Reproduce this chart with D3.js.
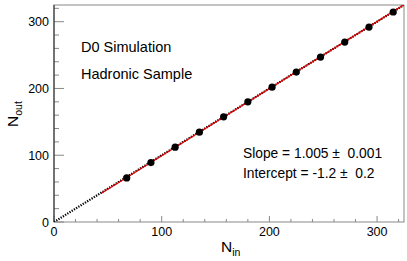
<!DOCTYPE html>
<html>
<head>
<meta charset="utf-8">
<script src="https://cdn.jsdelivr.net/npm/d3@7"></script>
<style>
  body { margin: 0; background: #fff; }
  text { font-family: "Liberation Sans", Arial, sans-serif; }
</style>
</head>
<body>
<script>
// General constants
const WIDTH = 407;
const HEIGHT = 261;
const margin = {left: 54, top: 5, right: 3, bottom: 39};

// Data
const nIn  = [67.5, 90, 112.5, 135, 157.5, 180, 202.5, 225, 247.5, 270, 292.5, 315];
const nOut = [66, 89, 112, 134.5, 157.5, 180, 202, 224.5, 247, 269.5, 292, 314.5];
const xTicks = [0, 100, 200, 300];
const yTicks = [0, 100, 200, 300];
const fitSlope = 1.005;
const fitIntercept = -1.2;
const fitRange = [44, 325];
const labels = ["D0 Simulation", "Hadronic Sample"];
const fitLabels = ["Slope = 1.005 \u00b1  0.001", "Intercept = -1.2 \u00b1  0.2"];

const svg = d3.select("body").append("svg")
    .attr("width", WIDTH)
    .attr("height", HEIGHT);

var x = d3.scaleLinear().domain([0, 325]).range([margin.left, WIDTH - margin.right]);
var y = d3.scaleLinear().domain([0, 325]).range([HEIGHT - margin.bottom, margin.top]);

svg.append("clipPath").attr("id", "clip")
    .append("rect")
    .attr("x", margin.left).attr("y", margin.top)
    .attr("width", WIDTH - margin.left - margin.right)
    .attr("height", HEIGHT - margin.top - margin.bottom);

/** Frame */
svg.append("rect")
    .attr("x", margin.left).attr("y", margin.top)
    .attr("width", WIDTH - margin.left - margin.right)
    .attr("height", HEIGHT - margin.top - margin.bottom)
    .attr("fill", "none")
    .attr("stroke", "#888");

/** Ticks pointing inside, ROOT style */
const minor = d3.range(0, 326, 20);
svg.selectAll(".ytick").data(minor).enter().append("line")
    .attr("x1", x(0))
    .attr("x2", d => x(0) + (d % 100 === 0 ? 10 : 5))
    .attr("y1", d => y(d)).attr("y2", d => y(d))
    .attr("stroke", "#888");
svg.selectAll(".xtick").data(minor).enter().append("line")
    .attr("y1", y(0))
    .attr("y2", d => y(0) - (d % 100 === 0 ? 6 : 3))
    .attr("x1", d => x(d)).attr("x2", d => x(d))
    .attr("stroke", "#888");

svg.append("line")
    .attr("x1", x(0)).attr("x2", x(0))
    .attr("y1", y(0)).attr("y2", margin.top)
    .attr("stroke", "#222");

svg.selectAll(".ylab").data(yTicks).enter().append("text")
    .attr("x", x(0) - 5)
    .attr("y", d => y(d) + 4.5)
    .attr("text-anchor", "end")
    .attr("font-size", 12.5)
    .text(d => d);
svg.selectAll(".xlab").data(xTicks).enter().append("text")
    .attr("x", d => x(d))
    .attr("y", y(0) + 14)
    .attr("text-anchor", "middle")
    .attr("font-size", 12.5)
    .text(d => d);

/** Axis titles */
var xt = svg.append("text")
    .attr("x", 221).attr("y", 252)
    .attr("font-size", 15.5);
xt.append("tspan").text("N");
xt.append("tspan").attr("font-size", 10.5).attr("dy", 4).text("in");

var yt = svg.append("text")
    .attr("transform", "translate(18,127) rotate(-90)")
    .attr("font-size", 15.5);
yt.append("tspan").text("N");
yt.append("tspan").attr("font-size", 10.5).attr("dy", 4).text("out");

const g = svg.append("g").attr("clip-path", "url(#clip)");

/** Dotted y = x reference line */
g.append("line")
    .attr("x1", x(0)).attr("y1", y(0))
    .attr("x2", x(325)).attr("y2", y(325))
    .attr("stroke", "#000")
    .attr("stroke-width", 2.2)
    .attr("stroke-dasharray", "1.3,1.3");

/** Fit line */
g.append("line")
    .attr("x1", x(fitRange[0])).attr("y1", y(fitSlope * fitRange[0] + fitIntercept))
    .attr("x2", x(fitRange[1])).attr("y2", y(fitSlope * fitRange[1] + fitIntercept))
    .attr("stroke", "#e00000")
    .attr("stroke-width", 1.3);

g.selectAll("circle").data(nIn).enter().append("circle")
    .attr("cx", d => x(d))
    .attr("cy", (d, i) => y(nOut[i]))
    .attr("r", 3.6)
    .attr("fill", "#000");

svg.selectAll(".lab").data(labels).enter().append("text")
    .attr("x", 81)
    .attr("y", (d, i) => 52 + i * 27.3)
    .attr("font-size", 14.5)
    .text(d => d);

svg.selectAll(".fitlab").data(fitLabels).enter().append("text")
    .attr("x", 243)
    .attr("y", (d, i) => 157.5 + i * 20.5)
    .attr("font-size", 13.8)
    .attr("xml:space", "preserve")
    .style("white-space", "pre")
    .text(d => d);
</script>
</body>
</html>
